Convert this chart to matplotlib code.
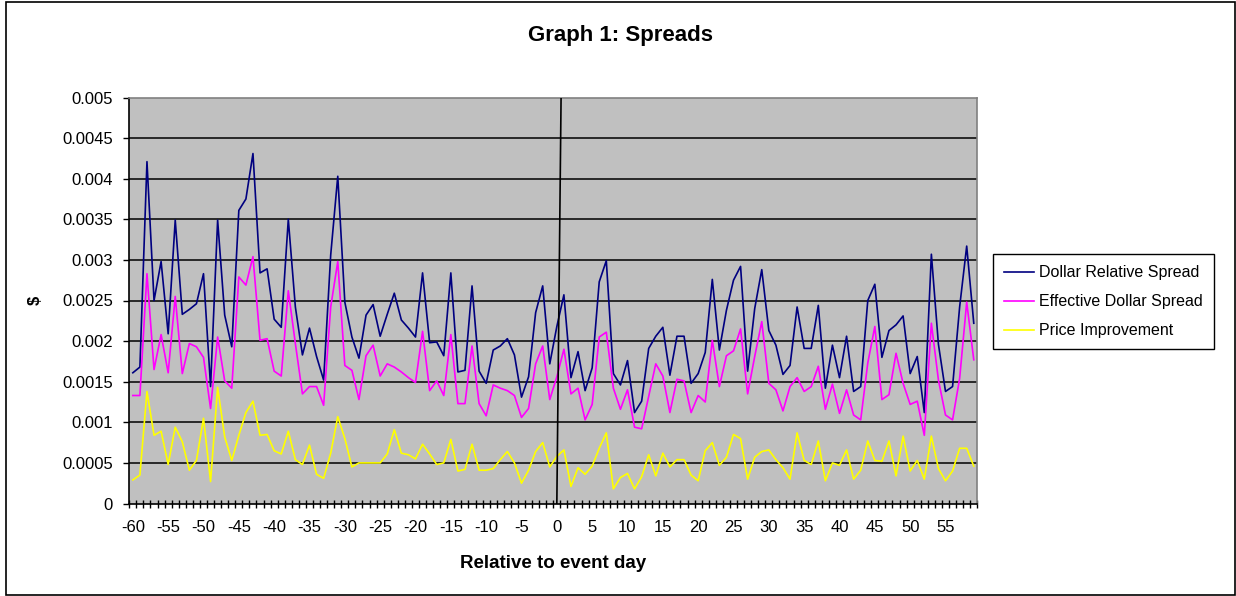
import numpy as np
import matplotlib
matplotlib.use("Agg")
import matplotlib.pyplot as plt
from matplotlib.patches import Rectangle

plt.rcParams['font.family'] = ['Liberation Sans', 'DejaVu Sans']

# ---------------- data (values in units of 0.0001 $) ----------------
days = list(range(-60, 60))
tick_days = list(range(-60, 60, 5))
y_ticks = [0, 0.0005, 0.001, 0.0015, 0.002, 0.0025, 0.003, 0.0035, 0.004, 0.0045, 0.005]
y_tick_labels = ["0", "0.0005", "0.001", "0.0015", "0.002", "0.0025", "0.003", "0.0035", "0.004", "0.0045", "0.005"]

dollar_relative_spread_e4 = [
    16.1, 16.8, 42.1, 25.0, 29.8, 20.9, 34.9, 23.3, 23.9, 24.6,
    28.3, 14.4, 34.9, 23.2, 19.3, 36.1, 37.5, 43.1, 28.4, 28.9,
    22.7, 21.7, 35.0, 24.2, 18.3, 21.6, 18.1, 15.2, 30.6, 40.3,
    24.8, 20.5, 17.9, 23.2, 24.5, 20.6, 23.3, 25.9, 22.6, 21.6,
    20.5, 28.4, 19.8, 19.9, 18.2, 28.4, 16.2, 16.4, 26.8, 16.3,
    14.8, 18.9, 19.4, 20.3, 18.3, 13.1, 15.6, 23.5, 26.8, 17.2,
    21.8, 25.7, 15.5, 18.7, 13.9, 16.7, 27.3, 29.9, 16.0, 14.6,
    17.6, 11.2, 12.6, 19.1, 20.6, 21.7, 15.8, 20.6, 20.6, 14.8,
    16.0, 18.6, 27.6, 18.9, 23.8, 27.5, 29.2, 16.3, 24.0, 28.8,
    21.3, 19.5, 15.9, 17.0, 24.2, 19.1, 19.1, 24.4, 14.2, 19.5,
    15.5, 20.6, 13.8, 14.4, 25.0, 27.0, 18.0, 21.3, 22.0, 23.1,
    16.0, 18.1, 11.2, 30.7, 19.6, 13.8, 14.4, 24.2, 31.7, 22.2,
]
effective_dollar_spread_e4 = [
    13.3, 13.3, 28.3, 16.5, 20.8, 16.1, 25.5, 16.0, 19.7, 19.3,
    18.0, 11.7, 20.5, 15.1, 14.2, 27.9, 26.9, 30.4, 20.1, 20.3,
    16.3, 15.7, 26.2, 19.7, 13.5, 14.4, 14.4, 12.1, 24.2, 29.8,
    17.0, 16.4, 12.8, 18.2, 19.5, 15.7, 17.2, 16.8, 16.2, 15.5,
    14.9, 21.2, 13.9, 15.1, 13.3, 20.8, 12.3, 12.3, 19.4, 12.3,
    10.8, 14.6, 14.2, 13.9, 13.3, 10.6, 11.7, 17.2, 19.4, 12.8,
    15.6, 19.0, 13.5, 14.2, 10.3, 12.2, 20.5, 21.1, 14.2, 11.6,
    14.0, 9.4, 9.2, 13.2, 17.2, 15.7, 11.2, 15.3, 15.1, 11.2,
    13.3, 12.5, 20.1, 14.4, 18.2, 18.8, 21.5, 13.5, 18.1, 22.4,
    14.8, 14.0, 11.4, 14.4, 15.5, 13.8, 14.4, 16.9, 11.6, 14.7,
    11.1, 14.0, 10.9, 10.3, 17.3, 21.8, 12.8, 13.4, 18.5, 14.8,
    12.2, 12.6, 8.4, 22.2, 15.2, 10.9, 10.3, 15.4, 24.8, 17.7,
]
price_improvement_e4 = [
    2.9, 3.5, 13.8, 8.4, 8.9, 4.8, 9.4, 7.6, 4.1, 5.3,
    10.5, 2.7, 14.3, 8.2, 5.3, 8.4, 11.2, 12.6, 8.4, 8.5,
    6.5, 6.1, 8.9, 5.4, 4.8, 7.2, 3.6, 3.1, 6.2, 10.7,
    8.0, 4.5, 5.0, 5.0, 5.0, 5.0, 6.1, 9.1, 6.2, 6.0,
    5.5, 7.3, 6.1, 4.8, 5.0, 7.9, 4.0, 4.2, 7.3, 4.1,
    4.1, 4.3, 5.4, 6.4, 5.0, 2.5, 4.1, 6.4, 7.5, 4.5,
    5.8, 6.6, 2.1, 4.4, 3.6, 4.6, 6.8, 8.7, 1.8, 3.2,
    3.7, 1.8, 3.3, 6.0, 3.4, 6.2, 4.5, 5.4, 5.4, 3.5,
    2.8, 6.5, 7.5, 4.7, 5.7, 8.5, 8.0, 3.0, 5.7, 6.4,
    6.6, 5.4, 4.4, 3.0, 8.7, 5.3, 4.8, 7.7, 2.8, 5.0,
    4.7, 6.6, 3.0, 4.1, 7.7, 5.3, 5.2, 7.7, 3.4, 8.3,
    4.0, 5.3, 3.0, 8.3, 4.3, 2.8, 4.0, 6.8, 6.8, 4.6,
]
series_names = ["Dollar Relative Spread", "Effective Dollar Spread", "Price Improvement"]
series_colors = ["#000080", "#FF00FF", "#FFFF00"]

# event-day marker line (drawn shape in the original)
event_line_days = [0, 0.6]
event_line_values = [0, 0.005]

dollar_relative_spread = np.array(dollar_relative_spread_e4) / 10000
effective_dollar_spread = np.array(effective_dollar_spread_e4) / 10000
price_improvement = np.array(price_improvement_e4) / 10000

# ---------------- figure ----------------
W, H = 1236, 596
DPI = 100
PT = 72 / DPI  # points per pixel
fig = plt.figure(figsize=(W / DPI, H / DPI), dpi=DPI)
fig.patch.set_facecolor("white")

def fx(px):
    return px / W

def fy(py):
    return 1 - py / H

left, right, top, bottom = 129.3, 977.3, 97.5, 503.5
ax = fig.add_axes([fx(left), fy(bottom), fx(right) - fx(left), fy(top) - fy(bottom)])
ax.set_facecolor("#C0C0C0")

for yv in y_ticks[1:-1]:
    ax.axhline(yv, color="black", lw=1.1, zorder=1)

for vals, name, col in zip([dollar_relative_spread, effective_dollar_spread, price_improvement],
                           series_names, series_colors):
    ax.plot(days, vals, color=col, lw=1.2, label=name, zorder=3)

ax.plot(event_line_days, event_line_values, color="black", lw=1.2, zorder=4)

ax.set_xlim(days[0] - 0.5, days[-1] + 0.5)
ax.set_ylim(0, 0.005)
ax.set_yticks(y_ticks)
ax.set_yticklabels(y_tick_labels, fontsize=12)
ax.tick_params(axis="y", direction="out", length=6 * PT, width=1, pad=10.5 * PT, colors="black")

ax.set_xticks(tick_days)
ax.set_xticklabels([str(d) for d in tick_days], fontsize=12)
ax.set_xticks(np.arange(days[0] - 0.5, days[-1] + 1.0, 1.0), minor=True)
ax.tick_params(axis="x", which="major", length=0, pad=17 * PT)
ax.tick_params(axis="x", which="minor", direction="inout", length=8 * PT, width=1)

for s in ["top", "right"]:
    ax.spines[s].set_color("#808080")
    ax.spines[s].set_linewidth(1.2)
for s in ["left", "bottom"]:
    ax.spines[s].set_color("black")
    ax.spines[s].set_linewidth(1.2)

fig.text(fx(620.5), fy(35.7), "Graph 1: Spreads", fontsize=16, fontweight="bold",
         ha="center", va="center")
fig.text(fx(553.3), fy(564), "Relative to event day", fontsize=13.5, fontweight="bold",
         ha="center", va="center")
fig.text(fx(35), fy(300.5), "$", fontsize=12, fontweight="bold", rotation=90,
         ha="center", va="center")

leg = fig.legend(loc="upper left", bbox_to_anchor=(fx(992.5), fy(254)), fontsize=11.5,
                 frameon=True, fancybox=False, shadow=False, borderaxespad=0,
                 handlelength=1.9, handletextpad=0.3, borderpad=0.7, labelspacing=0.88)
leg.get_frame().set_edgecolor("black")
leg.get_frame().set_linewidth(1.0)
leg.get_frame().set_alpha(1)

fig.add_artist(Rectangle((fx(6), fy(595)), fx(1235) - fx(6), fy(2) - fy(595),
                         transform=fig.transFigure, fill=False, edgecolor="black", lw=1.2))

fig.savefig("out.png", dpi=DPI)
